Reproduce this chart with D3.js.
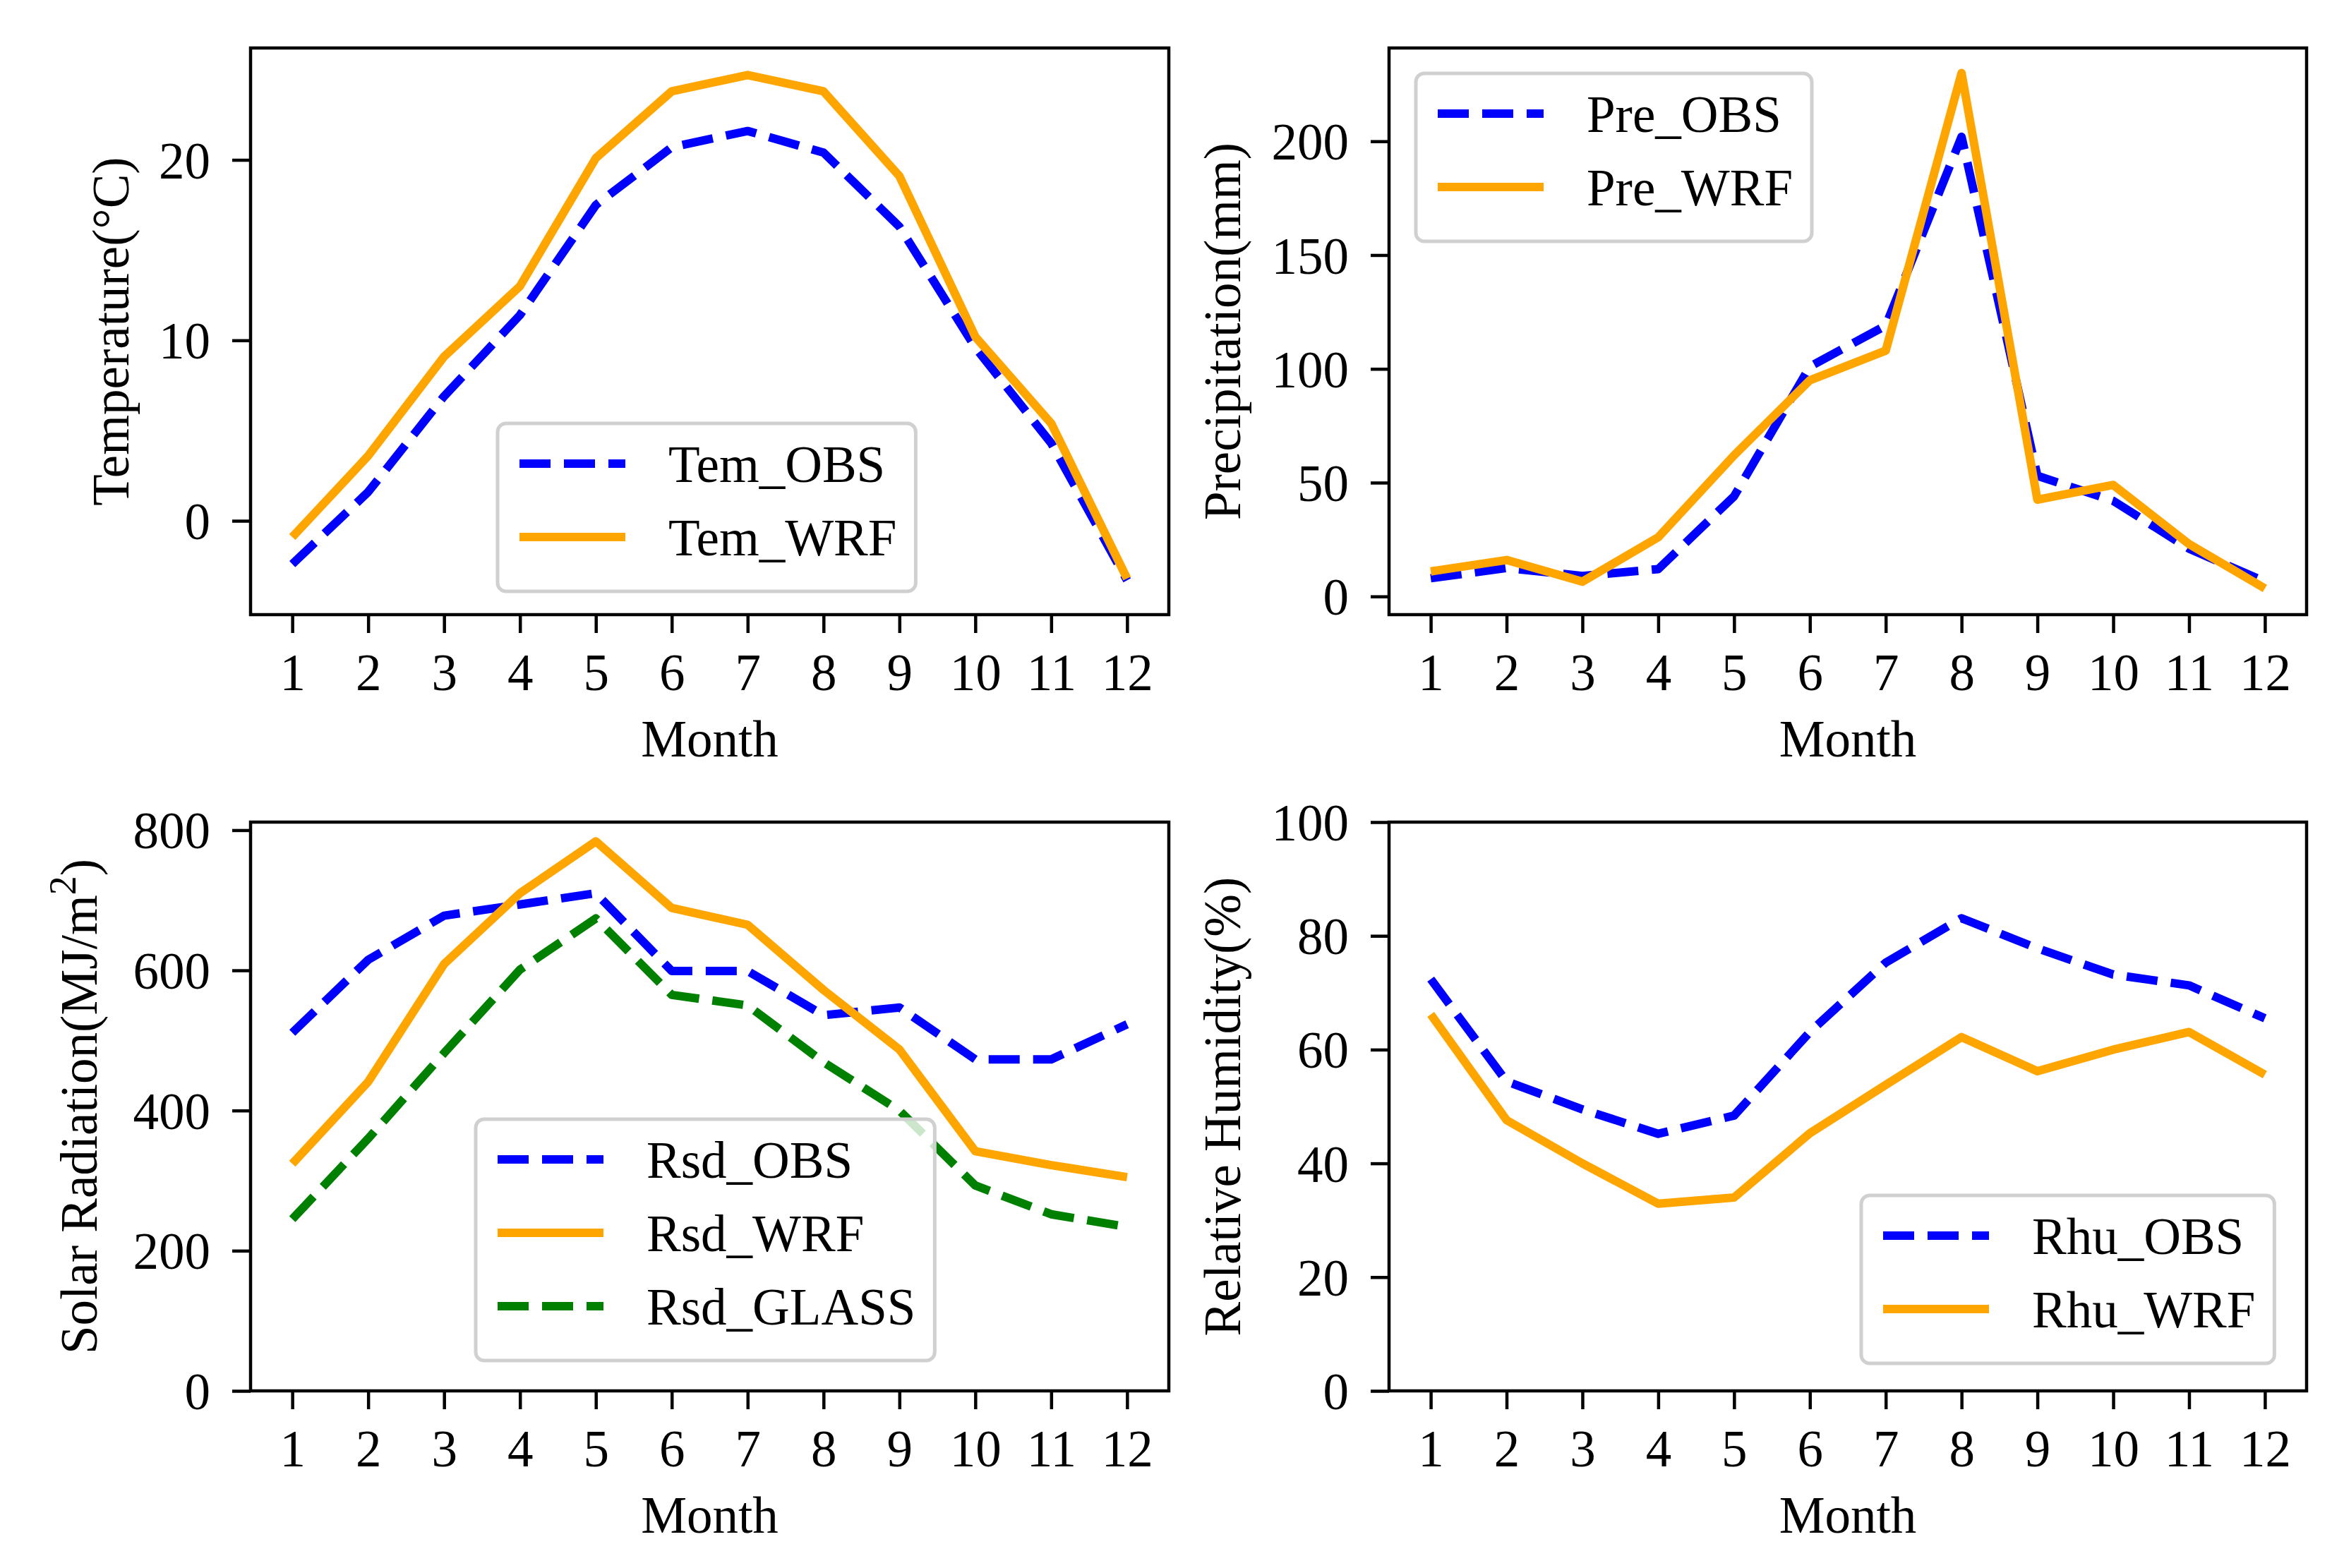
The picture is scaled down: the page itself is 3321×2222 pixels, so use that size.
<!DOCTYPE html>
<html>
<head>
<meta charset="utf-8">
<script src="https://cdn.jsdelivr.net/npm/d3@7"></script>
<style>
body { margin: 0; background: #fff; }
svg { display: block; font-family: "Liberation Serif", "Times New Roman", serif; }
</style>
</head>
<body>
<svg id="chart" width="3321" height="2222"></svg>
<script>
// monthly values
const months = [1, 2, 3, 4, 5, 6, 7, 8, 9, 10, 11, 12];

const temObs = [-2.4, 1.6, 6.9, 11.4, 17.5, 20.7, 21.6, 20.4, 16.3, 9.6, 4.3, -3.3];
const temWrf = [-0.9, 3.6, 9.1, 13.0, 20.1, 23.8, 24.7, 23.8, 19.1, 10.2, 5.4, -3.2];

const preObs = [8, 12.5, 9, 12, 44, 101, 119, 202, 53, 42, 21, 6.5];
const preWrf = [11, 16, 6.5, 26, 62, 95, 108, 230, 42.5, 49, 23, 3.5];

const rsdObs = [511, 615, 678, 694, 710, 599, 599, 536, 547, 473, 473, 523];
const rsdWrf = [324, 441, 609, 710, 784, 689, 665, 572, 487, 342, 322, 305];
const rsdGlass = [245, 360, 482, 601, 674, 565, 550, 469, 400, 293, 252, 234];

const rhuObs = [72.4, 54.4, 49.5, 45.2, 48.4, 63.1, 75.3, 83.1, 77.8, 73.2, 71.3, 65.5];
const rhuWrf = [66.2, 47.6, 40, 32.9, 34, 45.3, 53.8, 62.2, 56.2, 60, 63.1, 55.6];

const temTicks = [0, 10, 20];
const preTicks = [0, 50, 100, 150, 200];
const rsdTicks = [0, 200, 400, 600, 800];
const rhuTicks = [0, 20, 40, 60, 80, 100];

const FS = 73;
const LW = 12;
const DASH = '44,19';

const svg = d3.select('#chart');
svg.append('rect').attr('width', 3321).attr('height', 2222).attr('fill', '#fff');

const panels = [
  {
    box: [355, 68, 1656, 871], yDomain: [-5.2, 26.2], ticks: temTicks,
    label: ['Temperature(°C)'], labelX: 182, legend: [705, 600],
    series: [
      { name: 'Tem_OBS', values: temObs, color: 'blue', dashed: true },
      { name: 'Tem_WRF', values: temWrf, color: 'orange', dashed: false }
    ]
  },
  {
    box: [1968, 68, 3268, 871], yDomain: [-8, 241], ticks: preTicks,
    label: ['Precipitation(mm)'], labelX: 1757, legend: [2006, 104],
    series: [
      { name: 'Pre_OBS', values: preObs, color: 'blue', dashed: true },
      { name: 'Pre_WRF', values: preWrf, color: 'orange', dashed: false }
    ]
  },
  {
    box: [355, 1165, 1656, 1971], yDomain: [0, 811.5], ticks: rsdTicks,
    label: ['Solar Radiation(MJ/m', '2', ')'], labelX: 137, legend: [674, 1586],
    series: [
      { name: 'Rsd_OBS', values: rsdObs, color: 'blue', dashed: true },
      { name: 'Rsd_WRF', values: rsdWrf, color: 'orange', dashed: false },
      { name: 'Rsd_GLASS', values: rsdGlass, color: 'green', dashed: true }
    ]
  },
  {
    box: [1968, 1165, 3268, 1971], yDomain: [0, 100], ticks: rhuTicks,
    label: ['Relative Humidity(%)'], labelX: 1757, legend: [2637, 1694],
    series: [
      { name: 'Rhu_OBS', values: rhuObs, color: 'blue', dashed: true },
      { name: 'Rhu_WRF', values: rhuWrf, color: 'orange', dashed: false }
    ]
  }
];

const drawPanel = (p, i) => {
  const [x0, y0, x1, y1] = p.box;
  const x = d3.scaleLinear().domain([0.45, 12.55]).range([x0, x1]);
  const y = d3.scaleLinear().domain(p.yDomain).range([y1, y0]);
  const g = svg.append('g');

  const clipId = 'clip' + i;
  svg.append('clipPath').attr('id', clipId)
    .append('rect').attr('x', x0).attr('y', y0).attr('width', x1 - x0).attr('height', y1 - y0);

  // lines
  const line = d3.line().x((d, j) => x(months[j])).y(d => y(d));
  p.series.forEach(s => {
    g.append('path')
      .datum(s.values)
      .attr('clip-path', `url(#${clipId})`)
      .attr('d', line)
      .attr('fill', 'none')
      .attr('stroke', s.color)
      .attr('stroke-width', LW)
      .attr('stroke-linejoin', 'round')
      .attr('stroke-dasharray', s.dashed ? DASH : null);
  });

  // axes
  const xAxis = g.append('g')
    .attr('transform', `translate(0,${y1})`)
    .call(d3.axisBottom(x).tickValues(months).tickFormat(d3.format('d')).tickSize(26).tickSizeOuter(0).tickPadding(29));
  const yAxis = g.append('g')
    .attr('transform', `translate(${x0},0)`)
    .call(d3.axisLeft(y).tickValues(p.ticks).tickFormat(d3.format('d')).tickSize(26).tickSizeOuter(0).tickPadding(31));
  [xAxis, yAxis].forEach(a => {
    a.attr('font-size', FS).attr('font-family', null);
    a.select('.domain').remove();
    a.selectAll('line').attr('stroke', '#000').attr('stroke-width', 4.5);
    a.selectAll('text').attr('fill', '#000');
  });
  yAxis.selectAll('text').attr('dy', '0.35em');

  // frame
  g.append('rect')
    .attr('x', x0).attr('y', y0).attr('width', x1 - x0).attr('height', y1 - y0)
    .attr('fill', 'none').attr('stroke', '#000').attr('stroke-width', 4.5);

  // labels
  g.append('text')
    .attr('x', (x0 + x1) / 2).attr('y', y1 + 201)
    .attr('text-anchor', 'middle').attr('font-size', FS)
    .text('Month');

  const yl = g.append('text')
    .attr('transform', `translate(${p.labelX},${(y0 + y1) / 2}) rotate(-90)`)
    .attr('text-anchor', 'middle').attr('font-size', FS);
  yl.append('tspan').text(p.label[0]);
  if (p.label.length > 1) {
    yl.append('tspan').attr('dy', -30).attr('font-size', FS * 0.74).text(p.label[1]);
    yl.append('tspan').attr('dy', 30).text(p.label[2]);
  }

  // legend
  const [lx, ly] = p.legend;
  const lg = g.append('g').attr('transform', `translate(${lx},${ly})`);
  const frame = lg.append('rect');
  let maxLen = 0;
  p.series.forEach((s, j) => {
    const cy = 57 + j * 104;
    lg.append('line')
      .attr('x1', 31).attr('x2', 181).attr('y1', cy).attr('y2', cy)
      .attr('stroke', s.color).attr('stroke-width', LW)
      .attr('stroke-dasharray', s.dashed ? DASH : null);
    const t = lg.append('text')
      .attr('x', 242).attr('y', cy + 26)
      .attr('font-size', FS)
      .text(s.name);
    maxLen = Math.max(maxLen, t.node().getComputedTextLength());
  });
  frame
    .attr('x', 0).attr('y', 0)
    .attr('width', 242 + maxLen + 27)
    .attr('height', 57 + (p.series.length - 1) * 104 + 77)
    .attr('rx', 12)
    .attr('fill', '#fff').attr('fill-opacity', 0.8)
    .attr('stroke', '#d0d0d0').attr('stroke-width', 5);
};

panels.forEach(drawPanel);
</script>
</body>
</html>
